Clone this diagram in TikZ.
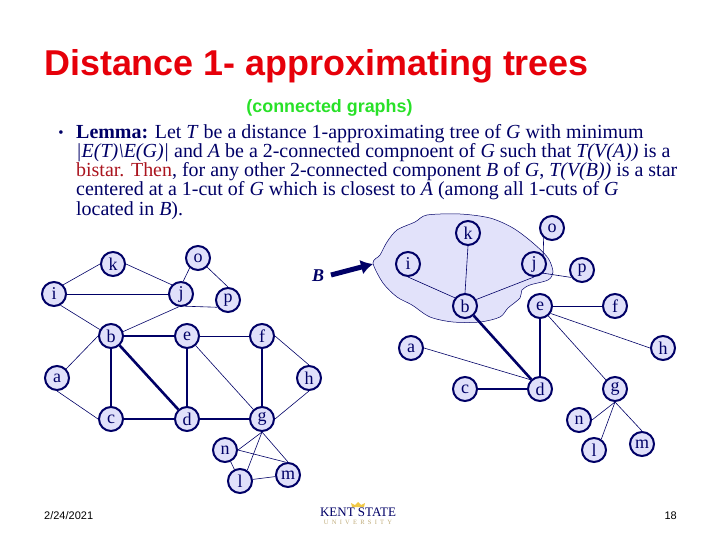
\documentclass[tikz,border=0pt]{standalone}
\usepackage{fontspec}
\usetikzlibrary{arrows.meta}
\setmainfont{Liberation Serif}
\newfontfamily\arialfont{Liberation Sans}
\definecolor{navy}{RGB}{0,0,102}
\definecolor{titlered}{RGB}{230,0,10}
\definecolor{darkred}{RGB}{170,20,30}
\definecolor{vertfill}{RGB}{224,224,250}
\definecolor{blobfill}{RGB}{226,226,250}
\definecolor{green1}{RGB}{40,225,40}
\definecolor{crown}{RGB}{240,200,70}
\definecolor{tan1}{RGB}{190,170,120}
\tikzset{
  vert/.style={circle, draw=navy, fill=vertfill, line width=2pt, minimum size=24pt, inner sep=0pt, text=navy, font=\fontsize{18}{18}\selectfont},
  thinedge/.style={navy, line width=0.6pt},
  thickedge/.style={navy, line width=2.6pt},
  textline/.style={anchor=base west, inner sep=0pt, text=navy, font=\fontsize{19.95}{19.95}\selectfont},
}
\begin{document}
\begin{tikzpicture}[x=1pt, y=-1pt]
    \useasboundingbox (0,0) rectangle (720,540);

    % title and small texts
    \node[anchor=base west, inner sep=0pt, text=titlered, font=\arialfont\bfseries\fontsize{35.9}{35.9}\selectfont] (title) at (44,76) {Distance 1- approximating trees};
    \node[anchor=base, inner sep=0pt, text=green1, font=\arialfont\bfseries\fontsize{17.9}{17.9}\selectfont] (sub) at (329.5,113) {(connected graphs)};
    \node[anchor=base, inner sep=0pt, text=navy, font=\fontsize{15}{15}\selectfont] (bullet) at (61,138) {\textbullet};

    \node[textline] (line1) at (76,139) {\textbf{Lemma:} Let \textit{T} be a distance 1-approximating tree of \textit{G} with minimum};
    \node[textline] (line2) at (76,158) {\textit{|E(T)\textbackslash E(G)|} and \textit{A} be a 2-connected compnoent of \textit{G} such that \textit{T(V(A))} is a};
    \node[textline] (line3) at (76,177) {\textcolor{darkred}{bistar. Then}, for any other 2-connected component \textit{B} of \textit{G}, \textit{T(V(B))} is a star};
    \node[textline] (line4) at (76,196) {centered at a 1-cut of \textit{G} which is closest to \textit{A} (among all 1-cuts of \textit{G}};
    \node[textline] (line5) at (76,215) {located in \textit{B}).};

    % left graph
    \node[vert] (k1) at (113,264) {k};
    \node[vert] (o1) at (198,258) {o};
    \node[vert] (i1) at (54,294) {i};
    \node[vert] (j1) at (181,294) {j};
    \node[vert] (p1) at (228,300) {p};
    \node[vert] (b1) at (111,336) {b};
    \node[vert] (e1) at (187,336) {e};
    \node[vert] (f1) at (262,336) {f};
    \node[vert] (a1) at (57,378) {a};
    \node[vert] (h1) at (309,378) {h};
    \node[vert] (c1) at (111,419) {c};
    \node[vert] (d1) at (187,419) {d};
    \node[vert] (g1) at (262,419) {g};
    \node[vert] (n1) at (225,450) {n};
    \node[vert] (l1) at (240,481) {l};
    \node[vert] (m1) at (288,475) {m};

    \draw[thinedge] (k1.west) -- (i1.north east);
    \draw[thinedge] (k1.east) -- (j1.north west);
    \draw[thinedge] (i1) -- (j1);
    \draw[thinedge] (i1.-60) -- (b1.150);
    \draw[thinedge] (j1.80) -- (o1.-130);
    \draw[thinedge] (o1.-45) -- (p1.north);
    \draw[thinedge] (j1.-70) -- (p1.-146);
    \draw[thinedge] (j1.-100) -- (b1.20);
    \draw[thinedge] (b1.west) -- (a1.north east);
    \draw[thinedge] (a1.south) -- (c1.west);
    \draw[thinedge] (e1) -- (f1);
    \draw[thinedge] (e1) -- (g1);
    \draw[thinedge] (f1.east) -- (h1.north);
    \draw[thinedge] (h1.south) -- (g1.east);
    \draw[thinedge] (g1.south) -- (n1.east);
    \draw[thinedge] (g1.south) -- (l1.56);
    \draw[thinedge] (g1.south) -- (m1.north);
    \draw[thinedge] (n1.east) -- (m1.100);
    \draw[thinedge] (n1) -- (l1);
    \draw[thinedge] (l1) -- (m1);
    \draw[thickedge] (b1) -- (c1);
    \draw[thickedge] (b1) -- (d1);
    \draw[thickedge] (b1) -- (e1);
    \draw[thickedge] (e1) -- (d1);
    \draw[thickedge] (c1) -- (d1);
    \draw[thickedge] (d1) -- (g1);
    \draw[thickedge] (f1) -- (g1);

    % right graph
    \draw[navy, line width=0.5pt, fill=blobfill] plot[smooth cycle, tension=0.5] coordinates {(373,263) (380,255) (387,242) (397,230) (415,222) (427,215) (460,214) (490,218) (513,228) (533,243) (548,258) (553,272) (548,280) (530,285) (522,290) (520,298) (508,308) (500,317) (480,322) (453,322) (430,317) (412,305) (397,297) (383,283)};
    \coordinate (blobtip) at (373,264);

    \node[vert] (k2) at (468,233) {k};
    \node[vert] (o2) at (552,228) {o};
    \node[vert] (i2) at (408,264) {i};
    \node[vert] (j2) at (534,264) {j};
    \node[vert] (p2) at (582,270) {p};
    \node[vert] (b2) at (465,306) {b};
    \node[vert] (e2) at (540,306) {e};
    \node[vert] (f2) at (615,306) {f};
    \node[vert] (a2) at (411,348) {a};
    \node[vert] (h2) at (663,348) {h};
    \node[vert] (c2) at (465,389) {c};
    \node[vert] (d2) at (540,389) {d};
    \node[vert] (g2) at (615,389) {g};
    \node[vert] (n2) at (579,420) {n};
    \node[vert] (l2) at (594,450) {l};
    \node[vert] (m2) at (642,444) {m};

    \draw[thinedge] (i2.south) -- (b2.141);
    \draw[thinedge] (k2.south) -- (b2.north);
    \draw[thinedge] (j2.south) -- (b2.30);
    \draw[thinedge] (j2.north east) -- (o2.-130);
    \draw[thinedge] (j2.-45) -- (p2.-145);
    \draw[thinedge] (a2.east) -- (d2.north west);
    \draw[thinedge] (e2) -- (f2);
    \draw[thinedge] (e2.-35) -- (h2.west);
    \draw[thinedge] (e2.-50) -- (g2.north west);
    \draw[thinedge] (g2.south) -- (n2.east);
    \draw[thinedge] (g2.south) -- (l2.56);
    \draw[thinedge] (g2.south) -- (m2.north);
    \draw[thickedge] (b2) -- (d2);
    \draw[thickedge] (e2) -- (d2);
    \draw[thickedge] (c2) -- (d2);

    % the arrow to the blob
    \node[anchor=center, inner sep=0pt, text=navy, font=\bfseries\itshape\fontsize{18}{18}\selectfont] (B) at (318,276) {B};
    \draw[navy, line width=5pt, -{Latex[length=12pt,width=15pt]}] (331,275) -- (blobtip);

    % footer
    \node[anchor=base west, inner sep=0pt, font=\arialfont\fontsize{11}{11}\selectfont] (date) at (44,519) {2/24/2021};
    \node[anchor=base east, inner sep=0pt, font=\arialfont\fontsize{11}{11}\selectfont] (page) at (677,519) {18};

    \fill[crown] (352,507) -- (351,503) -- (355,505) -- (358,502) -- (361,505) -- (365,503) -- (364,507) -- cycle;
    \node[anchor=base, inner sep=0pt, text=navy, font=\fontsize{13}{13}\selectfont] (kent) at (358,516) {KENT STATE};
    \node[anchor=base, inner sep=0pt, text=tan1, font=\fontsize{6.5}{6.5}\selectfont] (univ) at (358,524) {U \ N \ I \ V \ E \ R \ S \ I \ T \ Y};
\end{tikzpicture}
\end{document}
